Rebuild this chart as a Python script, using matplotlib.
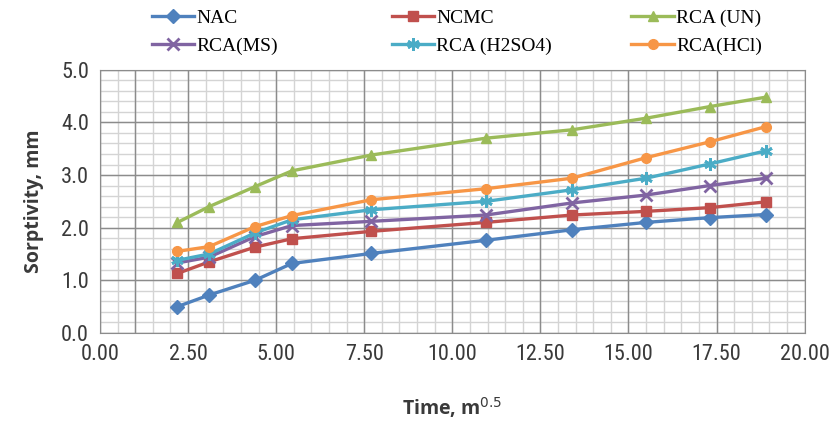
import matplotlib
matplotlib.use("Agg")
import matplotlib.pyplot as plt
from matplotlib.lines import Line2D

# time, m^0.5 (same for every mix)
time = [2.2, 3.1, 4.4, 5.45, 7.7, 10.95, 13.4, 15.5, 17.3, 18.9]

nac = [0.50, 0.72, 1.00, 1.32, 1.51, 1.76, 1.96, 2.10, 2.19, 2.25]
ncmc = [1.13, 1.35, 1.63, 1.79, 1.93, 2.10, 2.24, 2.31, 2.38, 2.49]
rca_un = [2.10, 2.40, 2.78, 3.08, 3.38, 3.70, 3.86, 4.08, 4.30, 4.48]
rca_ms = [1.33, 1.44, 1.83, 2.04, 2.12, 2.24, 2.47, 2.62, 2.80, 2.94]
rca_h2so4 = [1.38, 1.50, 1.90, 2.15, 2.34, 2.50, 2.72, 2.94, 3.21, 3.46]
rca_hcl = [1.55, 1.64, 2.02, 2.23, 2.53, 2.74, 2.94, 3.33, 3.63, 3.92]

series = [
    ("NAC", nac, "#4F81BD", "D"),
    ("NCMC", ncmc, "#C0504D", "s"),
    ("RCA (UN)", rca_un, "#9BBB59", "^"),
    ("RCA(MS)", rca_ms, "#8064A2", "x"),
    ("RCA (H2SO4)", rca_h2so4, "#4BACC6", (6, 2, 0)),
    ("RCA(HCl)", rca_hcl, "#F79646", "o"),
]

narrow = ["Liberation Sans Narrow", "Roboto Condensed", "Roboto", "DejaVu Sans"]

fig = plt.figure(figsize=(8.33, 4.23), dpi=100)
ax = fig.add_axes([0.12, 0.213, 0.846, 0.622])

# Excel style grid: minor every 0.5 / 0.2, darker major every 2.5 / 1.0
for x in [i * 0.5 for i in range(41)]:
    ax.axvline(x, color="#d4d4d4", lw=1.0, zorder=0)
for y in [i * 0.2 for i in range(26)]:
    ax.axhline(y, color="#d4d4d4", lw=1.0, zorder=0)
for x in [0, 1.0, 2.5, 5, 7.5, 10, 12.5, 15, 17.5, 20]:
    ax.axvline(x, color="#8c8c8c", lw=1.0, zorder=0.5)
for y in [0, 1, 2, 3, 4, 5]:
    ax.axhline(y, color="#8c8c8c", lw=1.0, zorder=0.5)

handles = []
for name, vals, col, mk in series:
    ms = 7 if mk not in ("x", (6, 2, 0)) else 9
    mew = 1.0 if mk not in ("x", (6, 2, 0)) else 2.0
    ax.plot(time, vals, color=col, lw=2.4, marker=mk, markersize=ms,
            markeredgewidth=mew, markeredgecolor=col, zorder=3)
    handles.append(Line2D([], [], color=col, lw=2.4, marker=mk, markersize=ms,
                          markeredgewidth=mew, markeredgecolor=col, label=name))

ax.set_xlim(0, 20)
ax.set_ylim(0, 5)
ax.set_xticks([i * 2.5 for i in range(9)])
ax.set_xticklabels([f"{i * 2.5:.2f}" for i in range(9)])
ax.set_yticks(range(6))
ax.set_yticklabels([f"{i:.1f}" for i in range(6)])
ax.tick_params(length=0, labelsize=16, pad=8, colors="#3a3a3a")
for lbl in ax.get_xticklabels() + ax.get_yticklabels():
    lbl.set_family(narrow)
for sp in ax.spines.values():
    sp.set_color("#8c8c8c")

ax.set_xlabel("Time, m$^{0.5}$", fontsize=14, fontweight="bold",
              family=["Open Sans", "DejaVu Sans"], color="#3a3a3a", labelpad=22)
ax.set_ylabel("Sorptivity, mm", fontsize=14, fontweight="bold",
              family=["Open Sans", "DejaVu Sans"], color="#3a3a3a", labelpad=12)

# legend: three columns of two rows, evenly spaced like the source
cols = [(handles[0], handles[3]), (handles[1], handles[4]), (handles[2], handles[5])]
for i, pair in enumerate(cols):
    fig.legend(handles=list(pair), loc="upper left",
               bbox_to_anchor=(0.168 + i * 0.288, 1.005), frameon=False,
               prop={"family": ["Liberation Serif", "DejaVu Serif"], "size": 14},
               handlelength=2.2, handletextpad=0.1, labelspacing=0.5,
               borderaxespad=0.2)

fig.savefig("out.png", dpi=100)
